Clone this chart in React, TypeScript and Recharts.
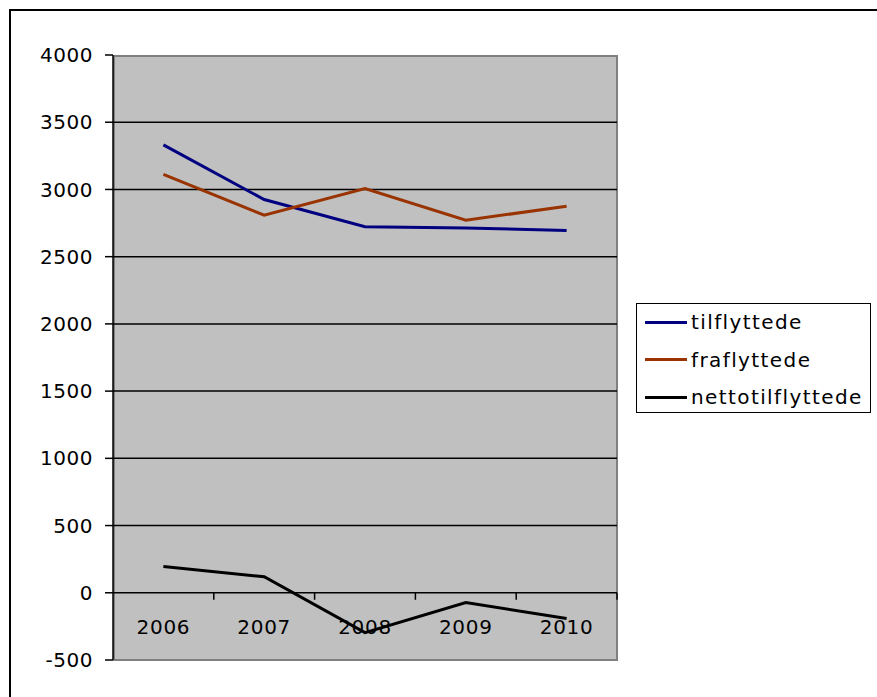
import { LineChart, Line, XAxis, YAxis, CartesianGrid, Legend } from 'recharts'

const years = ['2006', '2007', '2008', '2009', '2010']
const seriesNames = ['tilflyttede', 'fraflyttede', 'nettotilflyttede']
const tilflyttede = [3331, 2925, 2722, 2714, 2694]
const fraflyttede = [3112, 2808, 3007, 2771, 2875]
const nettotilflyttede = [196, 119, -296, -72, -192]
const yTicks = [-500, 0, 500, 1000, 1500, 2000, 2500, 3000, 3500, 4000]

const data = years.map((year, i) => ({
  year,
  tilflyttede: tilflyttede[i],
  fraflyttede: fraflyttede[i],
  nettotilflyttede: nettotilflyttede[i],
}))

const W = 877
const H = 697
const M = { top: 55, right: 260, bottom: 0, left: 0 }
const Y_AXIS_W = 113
const X_AXIS_H = 37
const PLOT_W = W - M.left - M.right - Y_AXIS_W
const PLOT_H = H - M.top - M.bottom - X_AXIS_H
const Y_MIN = -500
const Y_MAX = 4000
const ZERO_Y = M.top + (PLOT_H * Y_MAX) / (Y_MAX - Y_MIN)
const BAND = PLOT_W / years.length
const FONT = '"DejaVu Sans", Verdana, sans-serif'

// category labels sit under the zero line, ticks between categories (Excel style)
function XTick(props: any) {
  const { x, payload } = props
  return (
    <g>
      <line x1={x + BAND / 2} x2={x + BAND / 2} y1={ZERO_Y} y2={ZERO_Y + 7} stroke="#000" strokeWidth={1.5} />
      <text x={x} y={ZERO_Y + 41} textAnchor="middle" fill="#000" fontSize={20} fontFamily={FONT} style={{ letterSpacing: 0.7 }}>
        {payload.value}
      </text>
    </g>
  )
}

function LegendBox(props: any) {
  const payload = [...(props.payload || [])].sort(
    (a: any, b: any) => seriesNames.indexOf(a.value) - seriesNames.indexOf(b.value),
  )
  return (
    <div
      style={{
        width: 233,
        height: 108,
        border: '1.5px solid #000',
        background: '#fff',
        fontFamily: FONT,
        fontSize: 20,
        letterSpacing: 1.4,
        color: '#000',
        position: 'relative',
      }}
    >
      {payload.map((p: any, i: number) => (
        <div key={p.value} style={{ position: 'absolute', left: 8, top: 18 + i * 37.5 - 13, height: 26, display: 'flex', alignItems: 'center' }}>
          <div style={{ width: 42, height: 3, background: p.color, marginRight: 4 }} />
          <span style={{ whiteSpace: 'nowrap' }}>{p.value}</span>
        </div>
      ))}
    </div>
  )
}

export default function App() {
  return (
    <div style={{ position: 'absolute', left: 0, top: 0, width: W, height: H, background: '#fff', overflow: 'hidden' }}>
      <div style={{ position: 'absolute', left: 9, top: 9, width: 920, height: 740, border: '2px solid #000' }} />
      {/* grey plot area with its frame, sits behind the svg */}
      <div
        style={{
          position: 'absolute',
          left: M.left + Y_AXIS_W,
          top: M.top,
          width: PLOT_W + 1,
          height: PLOT_H + 1,
          boxSizing: 'border-box',
          border: '2px solid #808080',
          background: '#C0C0C0',
        }}
      />
      <div style={{ position: 'absolute', left: 0, top: 0 }}>
        <LineChart width={W} height={H} data={data} margin={M}>
          <CartesianGrid
            vertical={false}
            stroke="#000"
            strokeWidth={1.5}
            horizontalValues={yTicks.filter((t) => t > Y_MIN && t < Y_MAX)}
          />
          <XAxis
            dataKey="year"
            height={X_AXIS_H}
            axisLine={false}
            tickLine={false}
            tick={<XTick />}
            interval={0}
            padding={{ left: BAND / 2, right: BAND / 2 }}
          />
          <YAxis
            width={Y_AXIS_W}
            domain={[Y_MIN, Y_MAX]}
            ticks={yTicks}
            interval={0}
            axisLine={{ stroke: '#000', strokeWidth: 1.5 }}
            tickLine={{ stroke: '#000', strokeWidth: 1.5 }}
            tickSize={8}
            tickMargin={12}
            tick={{ fill: '#000', fontSize: 20, fontFamily: FONT, style: { letterSpacing: 0.5 } }}
          />
          <Legend
            layout="vertical"
            align="center"
            verticalAlign="middle"
            content={<LegendBox />}
            wrapperStyle={{ position: 'absolute', left: 636, top: 303, width: 236 }}
          />
          <Line type="linear" dataKey="tilflyttede" stroke="#000080" strokeWidth={3} dot={false} isAnimationActive={false} />
          <Line type="linear" dataKey="fraflyttede" stroke="#993300" strokeWidth={3} dot={false} isAnimationActive={false} />
          <Line type="linear" dataKey="nettotilflyttede" stroke="#000" strokeWidth={3} dot={false} isAnimationActive={false} />
        </LineChart>
      </div>
    </div>
  )
}
